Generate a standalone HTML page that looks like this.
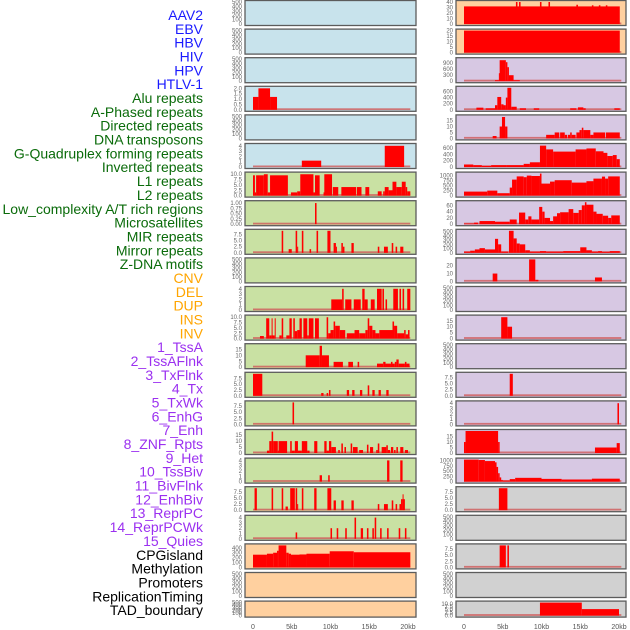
<!DOCTYPE html>
<html><head><meta charset="utf-8"><style>
html,body{margin:0;padding:0;background:#fff;}
svg{display:block;font-family:"Liberation Sans",Arial,sans-serif;}
</style></head><body>
<svg id="chart" width="630" height="630" viewBox="0 0 630 630"></svg>
<script>
const featureLabels=["AAV2","EBV","HBV","HIV","HPV","HTLV-1","Alu repeats","A-Phased repeats","Directed repeats","DNA transposons","G-Quadruplex forming repeats","Inverted repeats","L1 repeats","L2 repeats","Low_complexity A/T rich regions","Microsatellites","MIR repeats","Mirror repeats","Z-DNA motifs","CNV","DEL","DUP","INS","INV","1_TssA","2_TssAFlnk","3_TxFlnk","4_Tx","5_TxWk","6_EnhG","7_Enh","8_ZNF_Rpts","9_Het","10_TssBiv","11_BivFlnk","12_EnhBiv","13_ReprPC","14_ReprPCWk","15_Quies","CPGisland","Methylation","Promoters","ReplicationTiming","TAD_boundary"];
const labelGroups=[[0,5,"#1a1aff"],[6,18,"#0a6b0a"],[19,23,"#ffa500"],[24,38,"#9b30f0"],[39,43,"#000"]];
const xTickValues=[0,5,10,15,20];
const xTickLabels=["0","5kb","10kb","15kb","20kb"];
const E=[0,100,200,300,400,500];
const leftTicks=[E,E,E,[0,0.5,1,1.5,2],E,[0,1,2,3,4],[0,2.5,5,7.5,10],[0,0.25,0.5,0.75,1],[0,2.5,5,7.5],E,[0,1,2,3,4],[0,2.5,5,7.5,10],[0,5,10,15],[0,2.5,5,7.5],[0,2.5,5,7.5],[0,5,10,15],[0,1,2,3,4],[0,2.5,5,7.5],[0,1,2,3,4],[0,100,200,300,400],E,E];
const leftMax=[500,500,500,2.05,500,4.15,10.3,1.04,9,500,4.15,10.3,18.5,9.5,9,18.5,4.15,9,4.15,450,500,500];
const rightTicks=[[0,10,20,30,40],[0,5,10,15,20],[0,300,600,900],[0,200,400,600],[0,5,10,15],[0,200,400,600],[0,250,500,750,1000],[0,20,40,60],[0,100,200,300,400,500],[0,10,20],E,[0,5,10,15],E,[0,2.5,5,7.5],[0,1,2,3,4],[0,5,10,15],[0,250,500,750,1000],[0,2.5,5,7.5],E,[0,2.5,5,7.5],E,[0,2.5,5,7.5,10]];
const rightMax=[40,20,1100,720,18.5,700,1100,70,520,28,500,18.5,500,9,4.15,20,1050,9,500,9,500,11];
const leftSeries=[[],[],[],
[[0,0.7,1.2],[0.7,2.2,2],[2.2,3.1,1.2]],
[],
[[6.3,8.8,1.2],[17,19.5,4]],
[[0,0.25,9.5],[0.25,0.4,1.5],[0.4,0.9,9.5],[0.9,1.4,9.5],[1.4,1.9,10],[1.9,2.2,1.5],[2.2,4.5,9.5],[4.9,5.7,1.5],[5.7,6.1,2],[6.1,7.8,10],[7.8,8,1.5],[8,8.6,9.5],[9.1,9.2,1.5],[9.2,10.2,10],[10.3,11,4],[11.4,13.3,4],[13.4,14,4],[14.5,15,4],[16.1,16.6,2],[16.8,17,2],[17,17.5,4],[17.5,18,2.5],[18,18.5,6.5],[18.5,19.2,4],[19.2,19.7,6.5],[19.7,19.9,4],[19.9,20.3,2]],
[[8,8.2,1]],
[[3.7,3.9,9],[4.6,5,1.5],[5.5,5.7,9],[5.7,5.8,2.5],[6.3,6.5,9],[7.3,7.5,1.5],[8.2,8.4,9],[9.6,10,9],[10.4,10.7,4],[10.7,10.8,2.5],[11.4,11.6,4],[11.6,11.8,2.5],[12.7,13,4],[16.1,16.3,2.5],[16.9,17.4,2.5],[17.9,18.1,4],[18.4,18.6,2.5],[19,19.4,2.5]],
[],
[[10.1,11.5,2],[11.5,11.7,4],[11.9,12.7,2],[13,13.9,2],[14.1,14.4,4],[14.4,14.8,2],[15.2,15.7,2],[16,16.6,4],[16.7,16.9,4],[17.1,17.3,2],[18.1,18.7,4],[18.9,19.1,4],[19.3,19.5,4],[19.9,20.3,4]],
[[0.9,1.4,1.2],[1.7,2.1,9.5],[2.1,2.4,1.5],[2.4,2.5,9.5],[2.5,2.8,1.5],[2.8,2.9,9.5],[3.4,3.7,1.5],[3.7,3.9,9.5],[4.3,4.7,1.5],[4.7,5,9.5],[5.2,5.4,9.5],[5.4,5.7,3.5],[5.7,6,4],[6,6.3,9.5],[6.5,7,9.5],[7,7.2,1.5],[7.2,7.8,9.5],[8,8.5,9.5],[9.5,9.7,10],[9.7,10,2.5],[10,10.4,4],[10.4,10.6,8],[10.6,11.2,6],[11.2,11.9,4],[12.1,13.1,2.5],[13.1,13.7,4],[13.7,14.5,2.5],[14.5,14.8,4],[14.8,15,9.5],[15,15.4,6],[15.4,15.8,4],[15.8,16.3,2.5],[16.3,18,4],[18,18.2,8],[18.2,18.6,6],[18.6,19.5,2.5],[19.5,19.7,4],[19.7,20,2],[20,20.2,4]],
[[6.8,8.6,10],[8.6,8.9,18],[8.9,9.8,10],[10.4,11.6,4.5],[12.3,12.9,4.5],[13.5,13.7,4.5],[16,16.8,3],[16.8,17.1,4.5],[17.1,17.8,3],[17.8,18,4.5],[18,18.3,3],[18.3,18.5,4.5],[18.5,18.8,6.5],[18.8,19.6,3],[19.6,19.8,4.5],[19.8,20.2,3]],
[[0,1.2,9.5],[8.8,9.1,1.2],[9.5,9.7,1.2],[9.8,10,2.5],[12.1,12.4,2.5],[12.8,13.1,2.5],[13.8,14.1,2.5],[14.8,15,4.5],[15.4,15.7,2.5],[16.2,16.5,2.5],[17.2,17.5,2.5]],
[[5.1,5.3,9]],
[[1.8,2.1,2],[2.1,2.4,10],[2.4,2.6,18],[2.6,3.2,10],[3.2,3.3,2],[3.3,4.4,10],[4.8,5,10],[5,5.4,2],[5.4,5.8,10],[5.8,6.3,2],[6.3,7,10],[7,7.3,2],[7.9,8.3,10],[9.2,9.5,10],[9.5,9.8,2],[9.8,10.1,10],[10.1,10.7,5],[11,11.2,2.5],[11.4,11.6,8],[11.8,12,5],[12.6,12.8,8],[12.9,13.5,5],[13.7,14.2,2.5],[14.7,14.9,7],[15.1,15.5,5],[15.9,16.1,2.5],[16.1,16.3,8],[16.6,17.2,5],[17.2,17.4,6.5],[17.4,17.7,2.5],[17.8,18.1,5],[18.2,18.4,2.5],[18.5,18.7,5],[19,19.4,5],[19.6,20,2.5]],
[[8.6,8.9,1.2],[9.7,9.9,1.2],[17.3,17.6,4],[19,19.3,4]],
[[0.2,0.5,9],[2.4,2.6,9],[3.7,3.9,9],[4.2,4.5,1.5],[4.8,5.4,9],[5.5,5.7,9],[5.7,5.8,2.5],[6.3,6.5,9],[7.9,8.2,9],[9.6,10.1,9],[10.4,10.7,4],[11.4,11.7,4],[12.7,13,4],[16.1,16.3,2.5],[16.9,17.4,2.5],[17.9,18.1,4],[18.4,18.6,2.5],[18.9,19.1,2.5],[19.1,19.3,4.5],[19.3,19.4,6.5],[19.4,19.6,4.5]],
[[5.5,5.7,1.2],[10,10.2,2],[10.8,11,2],[11.9,12.1,2],[13.1,13.3,4],[13.9,14.2,2],[14.7,14.9,2],[15.4,15.6,2],[15.7,15.9,4],[16.4,16.6,2],[17.3,17.5,2],[18.8,19,2],[19.6,19.8,2]],
[[0,1.8,260],[1.8,2.6,280],[2.6,3.1,300],[3.1,3.3,340],[3.3,4.3,450],[4.3,4.6,300],[4.6,4.9,280],[4.9,6,260],[6,6.9,265],[6.9,9.9,280],[9.9,13,330],[13,20.3,310]],
[],[]];
const rightSeries=[
[[0,20.1,32],[6.7,6.9,40],[7.1,7.3,40],[9.8,10,40],[10.9,11.1,40],[14.5,14.7,35],[16.5,16.7,34],[17.4,17.6,34],[18.3,18.5,34]],
[[0,20.1,20]],
[[4,4.5,50],[4.5,4.6,400],[4.6,5.4,1050],[5.4,5.6,950],[5.6,5.8,700],[5.8,6.4,300],[6.4,7.2,50]],
[[1.6,2.5,70],[2.8,4,50],[4,4.3,150],[4.3,4.8,420],[4.8,5.1,180],[5.1,5.4,150],[5.4,5.6,400],[5.6,6.1,750],[6.1,6.8,100],[7.2,8,50],[9,9.7,50],[13.7,14.5,50],[14.7,15.4,80],[15.4,15.7,50],[19.4,20.1,50]],
[[3.7,4.2,2],[4.6,4.9,10],[4.9,5.3,18],[5.3,5.6,10],[10.6,11.7,3],[11.7,12.3,5],[12.4,13,5],[13,13.3,3],[13.4,13.7,3],[13.7,13.9,5],[13.9,14.4,3],[14.5,14.9,5],[14.9,15.2,7],[15.2,15.4,9],[15.4,16.3,7],[16.3,16.7,3],[16.7,18.2,5],[18.3,20.1,5]],
[[0,1.2,80],[1.2,2.3,60],[2.3,3.5,40],[3.5,5.5,60],[5.5,7.7,60],[7.7,8.5,100],[8.5,9.8,150],[9.8,10.6,680],[10.6,11.5,560],[11.5,14.4,490],[14.4,15.8,560],[15.8,17,590],[17,18,500],[18,18.5,450],[18.5,19.2,350],[19.2,19.7,380],[19.7,20.1,250]],
[[0,3,200],[3,4.3,250],[4.3,5.9,120],[5.9,6.2,400],[6.2,6.8,800],[6.8,7.7,960],[7.7,8.1,920],[8.1,8.7,1000],[8.7,9.8,980],[9.8,10,1100],[10,11.1,600],[11.1,11.7,700],[11.7,13.9,770],[13.9,15.8,650],[15.8,16.7,720],[16.7,17.8,850],[17.8,18.2,950],[18.2,18.6,850],[18.6,20.1,960]],
[[0,1.3,2],[1.3,1.8,5],[2,4,10],[4,5.9,8],[5.9,6.8,15],[7.1,7.9,37],[7.9,8.3,15],[8.3,8.7,25],[8.7,9.7,15],[9.7,10.1,55],[10.1,10.4,40],[10.4,11.1,20],[11.1,11.5,10],[11.5,12,25],[12,12.4,35],[12.4,13.5,38],[13.5,14.1,48],[14.1,14.8,36],[14.8,15.2,45],[15.2,15.6,60],[15.6,15.8,70],[15.8,16.7,62],[16.7,17.1,40],[17.1,17.9,33],[17.9,18.6,27],[18.6,19,20],[19,20.1,28]],
[[0,0.8,30],[0.8,1.4,50],[1.4,2,80],[2,2.7,110],[2.7,4,80],[4,4.4,330],[4.4,4.8,200],[4.8,5.7,30],[5.8,6.4,520],[6.4,6.8,340],[6.8,7.2,220],[7.2,7.9,200],[7.9,8.5,60],[8.5,9.8,30],[9.8,10.6,40],[10.6,12.8,30],[12.8,15,40],[15,15.8,130],[15.8,16.5,60],[16.5,17.3,30],[17.3,17.8,40],[17.8,18.8,25],[18.8,20.1,40]],
[[3.7,4.3,10],[8.4,9.2,28],[9.2,9.6,2],[16.9,17.8,5]],
[],
[[4.8,5.6,18],[5.6,6.2,10]],
[],
[[5.9,6.3,9]],
[[19.8,20,4]],
[[0,0.2,10],[0.2,4.4,20],[4.4,4.6,10],[16.9,19.7,5],[19.7,20.1,9]],
[[0,1.9,1050],[1.9,2.7,1030],[2.7,4,980],[4,4.2,920],[4.2,4.4,700],[4.4,4.6,400],[4.6,4.8,200],[4.8,5,80],[5,5.9,50],[5.9,6.6,120],[6.6,10,180],[10,12.6,130],[12.6,16.5,100],[16.5,20.1,140]],
[[4.5,5.6,9]],
[],
[[4.6,5.4,9],[5.6,5.8,9]],
[],
[[9.8,15.2,11],[15.2,20,5.5]]];
const leftBg=i=>i<6?"#c8e3ec":(i<19?"#c9e1a3":"#ffd09f");
const rightBg=i=>i<2?"#ffd09f":(i<17?"#d7c8e3":"#d1d1d1");

const NS="http://www.w3.org/2000/svg";
const svg=document.getElementById("chart");
function mk(tag,attrs,parent){const e=document.createElementNS(NS,tag);for(const k in attrs)e.setAttribute(k,attrs[k]);(parent||svg).appendChild(e);return e;}
function decs(v){const s=String(v);return s.includes(".")?s.split(".")[1].length:0;}

featureLabels.forEach((t,i)=>{
  const g=labelGroups.find(r=>i>=r[0]&&i<=r[1]);
  const el=mk("text",{x:203,y:15+i*13.84+5,"text-anchor":"end","font-size":"14",fill:g[2]});
  el.textContent=t;
  
  
});

function drawColumn(series,ticks,maxes,bgFn,px0,pw,dataX0,name,tickX){
  const xs=kb=>dataX0+kb*7.75;
  for(let i=0;i<22;i++){
    const top=0.5+i*28.6, h=(i===21)?16:25;
    const g=mk("g",{});
    
    
    mk("rect",{x:px0,y:top,width:pw,height:h,fill:bgFn(i),stroke:"#5c5c5c","stroke-width":1.3},g);
    const tk=ticks[i], ymax=maxes[i];
    const bottom=top+h-1.5, ph=h-3;
    const ys=v=>bottom-Math.min(v,ymax)/ymax*ph;
    const segs=series[i];
    if(segs.length){
      const bl=mk("rect",{x:xs(0),y:bottom-1.5,width:xs(20.3)-xs(0),height:1.8,fill:"#d05a5a",opacity:0.8},g);
      
      
    }
    segs.forEach(s=>{
      const r=mk("rect",{x:xs(s[0]),y:ys(s[2]),width:Math.max(1,xs(s[1])-xs(s[0])),height:bottom-ys(s[2]),fill:"#ff0000"},g);
      
      
    });
    const d=Math.max(...tk.map(decs));
    tk.forEach(v=>{
      const t=mk("text",{x:tickX,y:ys(v)+2,"text-anchor":"end","font-size":"6",fill:"#666"},g);
      t.textContent=v.toFixed(d);
      
      
    });
  }
  xTickValues.forEach((v,k)=>{
    const t=mk("text",{x:xs(v),y:629,"text-anchor":"middle","font-size":"7",fill:"#555"});
    t.textContent=xTickLabels[k];
    
    
  });
}
drawColumn(leftSeries,leftTicks,leftMax,leftBg,245,171,253,"left",242);
drawColumn(rightSeries,rightTicks,rightMax,rightBg,456,170,464,"right",453);
</script>
</body></html>
